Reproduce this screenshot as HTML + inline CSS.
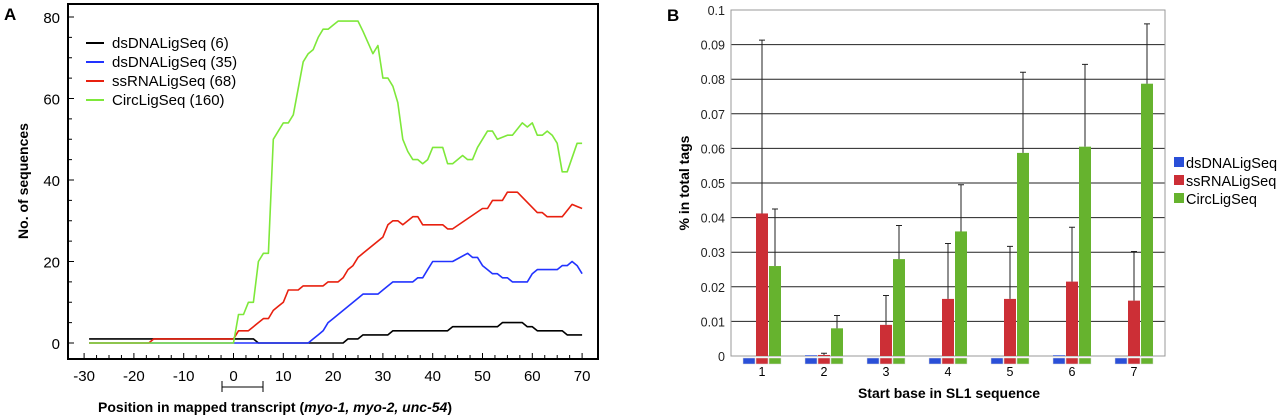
<!DOCTYPE html>
<html><head><meta charset="utf-8"><style>
html,body{margin:0;padding:0;background:#fff;width:1280px;height:417px;overflow:hidden}
svg{display:block;font-family:"Liberation Sans",sans-serif}
</style></head><body>
<svg id="s" width="1280" height="417"></svg>
<script>
// Panel A data
const aBlackX=[-29,4,5,22,23,25,26,31,32,43,44,53,54,58,59,60,61,66,67,70];
const aBlackY=[1,1,0,0,1,1,2,2,3,3,4,4,5,5,4,4,3,3,2,2];
const aBlueX=[-29,15,16,17,18,19,20,25,26,29,30,32,36,37,38,39,40,44,47,48,49,50,51,52,53,54,55,56,59,60,61,65,66,67,68,69,70];
const aBlueY=[0,0,1,2,3,5,6,11,12,12,13,15,15,16,16,18,20,20,22,21,21,19,18,17,17,16,16,15,15,17,18,18,19,19,20,19,17];
const aRedX=[-29,-17,-16,0,1,3,4,5,6,7,8,9,10,11,13,14,18,19,21,22,23,24,25,26,30,31,32,33,34,35,36,37,38,42,43,44,50,51,52,54,55,57,61,62,63,66,68,69,70];
const aRedY=[0,0,1,1,3,3,4,5,6,6,8,9,10,13,13,14,14,15,15,16,18,19,21,22,26,29,30,30,29,30,31,31,29,29,28,28,33,33,35,35,37,37,32,32,31,31,34,33.5,33];
const aGreenX=[-29,0,1,2,3,4,5,6,7,8,9,10,11,12,14,15,16,17,18,19,20,21,25,26,28,29,30,31,32,33,34,35,36,37,38,39,40,42,43,44,46,47,48,49,51,52,53,55,56,58,59,60,61,62,63,64,65,66,67,69,70];
const aGreenY=[0,0,7,7,10,10,20,22,22,50,52,54,54,56,69,71,72,75,77,77,78,79,79,76.5,71,73,65,65,63,59,50,47,45,45,44,45,48,48,44,44,46,45,45,48,52,52,50,51,51,54,53,54,51,51,52,51,49,42,42,49,49];
const aXTicks=[-30,-20,-10,0,10,20,30,40,50,60,70];
const aYTicks=[0,20,40,60,80];
const aLegend=["dsDNALigSeq (6)","dsDNALigSeq (35)","ssRNALigSeq (68)","CircLigSeq (160)"];
// Panel B data
const bCats=["1","2","3","4","5","6","7"];
const bBlue=[0,0.0002,0,0,0,0.0002,0];
const bRed=[0.0412,0.0003,0.009,0.0165,0.0165,0.0215,0.016];
const bGreen=[0.026,0.008,0.028,0.036,0.0587,0.0605,0.0787];
const bRedErr=[0.0913,0.0008,0.0175,0.0325,0.0317,0.0372,0.0302];
const bGreenErr=[0.0425,0.0117,0.0377,0.0495,0.082,0.0843,0.096];
const bYTicks=[0,0.01,0.02,0.03,0.04,0.05,0.06,0.07,0.08,0.09,0.1];
const bYLabels=["0","0.01","0.02","0.03","0.04","0.05","0.06","0.07","0.08","0.09","0.1"];
const bLegend=["dsDNALigSeq","ssRNALigSeq","CircLigSeq"];

const S=document.getElementById('s');const NS="http://www.w3.org/2000/svg";
function mk(t,a,txt){const e=document.createElementNS(NS,t);for(const k in a)e.setAttribute(k,a[k]);if(txt!==undefined)e.textContent=txt;S.appendChild(e);return e;}

// ===== Panel A =====
const ax=v=>233.5+v*4.98, ay=v=>343-v*4.075;
let e;
e=mk('text',{x:4,y:20,'font-size':17,'font-weight':'bold'},'A');

e=mk('rect',{x:68,y:4,width:530,height:355,fill:'none',stroke:'#000','stroke-width':2});

for(let v=-30;v<=70;v+=2.5){e=mk('line',{x1:ax(v),x2:ax(v),y1:359,y2:(v%10===0?353:355),stroke:'#000','stroke-width':1});
}
for(let v=0;v<=85;v+=5){e=mk('line',{x1:68,x2:(v%20===0?74:72),y1:ay(v),y2:ay(v),stroke:'#000','stroke-width':1});
}
aXTicks.forEach(v=>{e=mk('text',{x:ax(v),y:381,'font-size':15,'text-anchor':'middle'},String(v));
});
aYTicks.forEach(v=>{e=mk('text',{x:60,y:ay(v)+6,'font-size':15,'text-anchor':'end'},String(v));
});
e=mk('text',{x:0,y:0,'font-size':14,'font-weight':'bold','text-anchor':'middle',transform:'translate(28,181) rotate(-90)'},'No. of sequences');

e=mk('path',{d:'M222,381 V392 M222,387 H263 M263,381 V392',stroke:'#000',fill:'none','stroke-width':1});

e=mk('text',{x:275,y:412,'font-size':14,'font-weight':'bold','text-anchor':'middle'});
e.innerHTML='Position in mapped transcript (<tspan font-style="italic">myo-1, myo-2, unc-54</tspan>)';

const aSeries=[[aBlackX,aBlackY,'#000','line-dsdna-6'],[aBlueX,aBlueY,'#2233ff','line-dsdna-35'],[aRedX,aRedY,'#e8200f','line-ssrna-68'],[aGreenX,aGreenY,'#7ee83a','line-circ-160']];
aSeries.forEach(s=>{const pts=s[0].map((x,i)=>ax(x).toFixed(1)+','+ay(s[1][i]).toFixed(1)).join(' ');
e=mk('polyline',{points:pts,fill:'none',stroke:s[2],'stroke-width':1.6,'stroke-linejoin':'round'});
});
aLegend.forEach((t,i)=>{const y=48+i*19;
e=mk('line',{x1:86,x2:104,y1:y-5,y2:y-5,stroke:aSeries[i][2],'stroke-width':2});

e=mk('text',{x:112,y:y,'font-size':15},t);
});

// ===== Panel B =====
const bx0=731,bx1=1165,by=v=>356-v*3460;
const gw=(bx1-bx0)/bCats.length;
e=mk('text',{x:667,y:21,'font-size':17,'font-weight':'bold'},'B');

bYTicks.forEach((v,i)=>{e=mk('line',{x1:bx0,x2:bx1,y1:by(v),y2:by(v),stroke:'#222','stroke-width':1});

e=mk('text',{x:725,y:by(v)+5,'font-size':12.5,'text-anchor':'end','fill':'#222'},bYLabels[i]);
});
e=mk('rect',{x:bx0,y:by(0.1),width:bx1-bx0,height:by(0)-by(0.1),fill:'none',stroke:'#999','stroke-width':1});

const cols=['#2a4fd8','#cc2f36','#66b32e'];
bCats.forEach((c,i)=>{const cx=bx0+gw*(i+0.5);
[bBlue,bRed,bGreen].forEach((arr,j)=>{const x=cx+(j-1)*13-6;
e=mk('rect',{x:x,y:by(arr[i]),width:12,height:by(0)-by(arr[i]),fill:cols[j]});

e=mk('rect',{x:x,y:358,width:12,height:6,fill:cols[j],stroke:'#ddd','stroke-width':0.5});
});
[[bRed,bRedErr,0],[bGreen,bGreenErr,1]].forEach(p=>{const x=cx+p[2]*13;
e=mk('path',{d:`M${x},${by(p[0][i])} V${by(p[1][i])} M${x-3},${by(p[1][i])} H${x+3}`,stroke:'#222',fill:'none','stroke-width':1});
});
e=mk('text',{x:cx,y:376,'font-size':12.5,'text-anchor':'middle'},c);
});
e=mk('text',{x:0,y:0,'font-size':14,'font-weight':'bold','text-anchor':'middle',transform:'translate(689,183) rotate(-90)'},'% in total tags');

e=mk('text',{x:949,y:398,'font-size':14,'font-weight':'bold','text-anchor':'middle'},'Start base in SL1 sequence');

bLegend.forEach((t,i)=>{const y=168+i*18;
e=mk('rect',{x:1174,y:y-11,width:10,height:10,fill:cols[i]});

e=mk('text',{x:1186,y:y,'font-size':14.5},t);
});
</script>
</body></html>
